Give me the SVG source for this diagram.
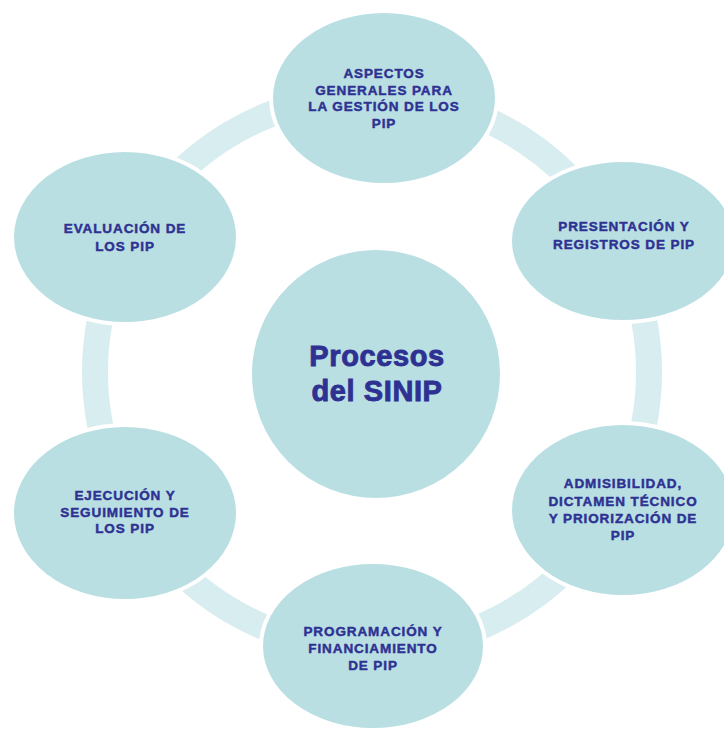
<svg xmlns="http://www.w3.org/2000/svg" width="724" height="729" viewBox="0 0 724 729">
<style>
.ring{fill:none;stroke:#d8edef;stroke-width:26}
.node{fill:#b9dfe3;stroke:#ffffff;stroke-width:4}
.t{font-family:"Liberation Sans",Arial,sans-serif;font-weight:bold;font-size:13.5px;letter-spacing:0.9px;fill:#2e3192;stroke:#2e3192;stroke-width:0.45px;text-anchor:middle}
.big{font-family:"Liberation Sans",Arial,sans-serif;font-weight:bold;font-size:29px;letter-spacing:0.6px;fill:#2e3192;stroke:#2e3192;stroke-width:0.9px;text-anchor:middle}
</style>
<rect width="724" height="729" fill="#ffffff"/>
<g id="connectors">
<circle class="ring" cx="372" cy="372" r="277"/>
</g>
<g id="center">
<circle class="node" cx="376" cy="374" r="126"/>
<text class="big" x="377" y="366">Procesos</text>
<text class="big" x="377" y="401">del SINIP</text>
</g>
<g id="aspectos">
<ellipse class="node" cx="384" cy="98" rx="113" ry="87"/>
<text class="t" x="384" y="78">ASPECTOS</text>
<text class="t" x="384" y="95">GENERALES PARA</text>
<text class="t" x="384" y="111">LA GESTIÓN DE LOS</text>
<text class="t" x="384" y="128">PIP</text>
</g>
<g id="presentacion">
<ellipse class="node" cx="623" cy="241" rx="113" ry="81"/>
<text class="t" x="624" y="231">PRESENTACIÓN Y</text>
<text class="t" x="624" y="249">REGISTROS DE PIP</text>
</g>
<g id="admisibilidad">
<ellipse class="node" cx="623" cy="510" rx="113" ry="87"/>
<text class="t" x="623" y="488">ADMISIBILIDAD,</text>
<text class="t" x="623" y="506">DICTAMEN TÉCNICO</text>
<text class="t" x="623" y="523">Y PRIORIZACIÓN DE</text>
<text class="t" x="623" y="540">PIP</text>
</g>
<g id="programacion">
<ellipse class="node" cx="373" cy="646" rx="112" ry="84"/>
<text class="t" x="373" y="636">PROGRAMACIÓN Y</text>
<text class="t" x="373" y="653">FINANCIAMIENTO</text>
<text class="t" x="373" y="670">DE PIP</text>
</g>
<g id="ejecucion">
<ellipse class="node" cx="125" cy="513" rx="113" ry="88"/>
<text class="t" x="125" y="500">EJECUCIÓN Y</text>
<text class="t" x="125" y="517">SEGUIMIENTO DE</text>
<text class="t" x="125" y="533">LOS PIP</text>
</g>
<g id="evaluacion">
<ellipse class="node" cx="125" cy="237" rx="113" ry="87"/>
<text class="t" x="125" y="233">EVALUACIÓN DE</text>
<text class="t" x="125" y="251">LOS PIP</text>
</g>
</svg>
